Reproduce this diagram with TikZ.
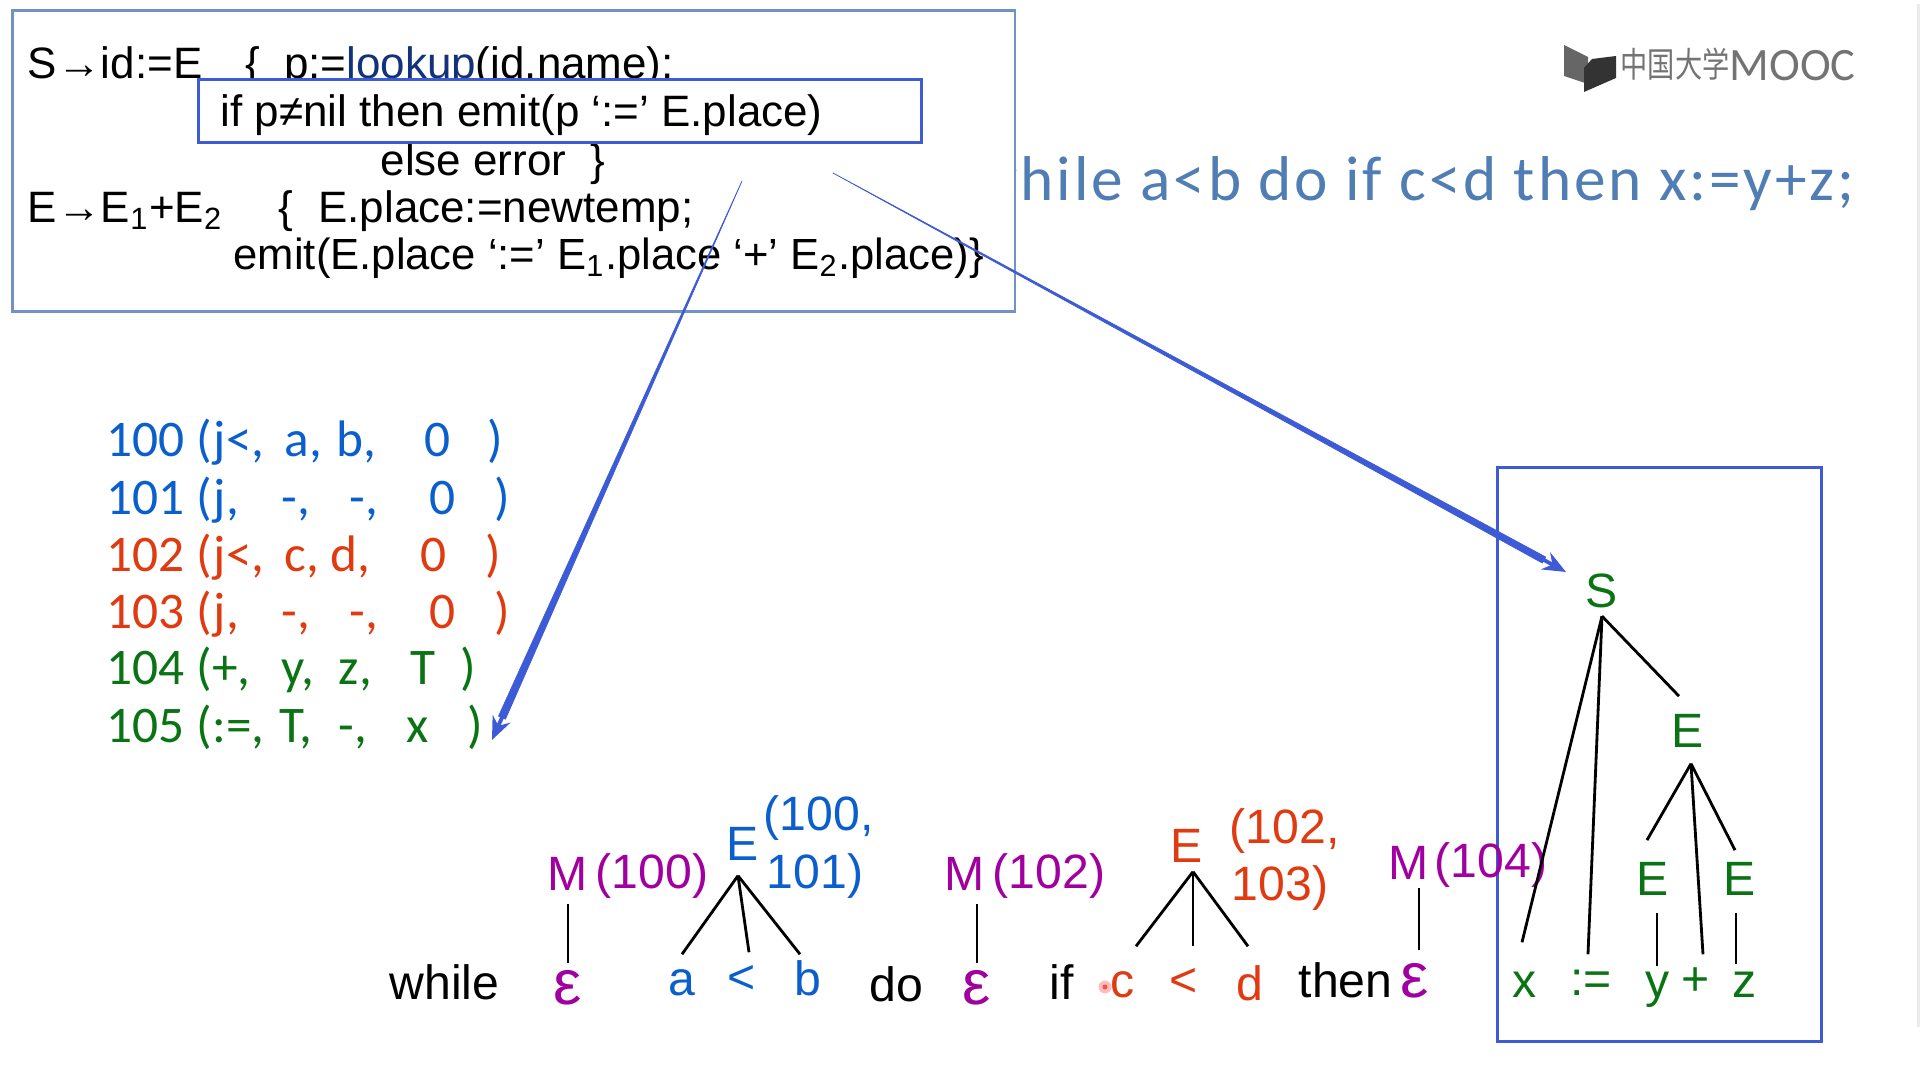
\documentclass[tikz,border=0pt]{standalone}
\usepackage{fontspec}
\setmainfont{Liberation Sans}
\newfontfamily\calfont{Carlito}
\newfontfamily\titlefont[LetterSpace=4.6]{Carlito}
\newfontfamily\cjkfont{Noto Sans CJK SC}
\usepackage{xcolor}
\usetikzlibrary{arrows.meta,calc}

\definecolor{framegray}{RGB}{112,146,196}
\definecolor{markblue}{RGB}{61,91,214}
\definecolor{titleblue}{RGB}{79,125,180}
\definecolor{linknavy}{RGB}{18,50,122}
\definecolor{tblblue}{RGB}{10,95,205}
\definecolor{tblred}{RGB}{224,58,16}
\definecolor{tblgreen}{RGB}{10,115,20}
\definecolor{mpurple}{RGB}{160,0,160}

\newlength\pxu
\setlength\pxu{0.01cm}
\newcommand{\opcell}[2]{\makebox[#1\pxu][l]{#2}}

\begin{document}
\begin{tikzpicture}[
    x=0.01cm, y=-0.01cm,
    code/.style={anchor=base west, inner sep=0pt, font=\fontsize{12.5}{14}\selectfont},
    optbl/.style={anchor=base west, inner sep=0pt, font=\calfont\fontsize{14.6}{16}\selectfont},
    txt/.style={anchor=base west, inner sep=0pt, font=\fontsize{13.7}{16}\selectfont},
    sym/.style={anchor=base, inner sep=0.12cm, font=\fontsize{13.7}{16}\selectfont},
    leaf/.style={sym, text height=0.29cm, text depth=0pt},
    eps/.style={leaf, mpurple, font=\fontsize{18}{20}\selectfont},
    hilite/.style={draw=markblue, line width=0.8pt},
    tline/.style={line width=0.8pt, black},
    pen/.style={fill=markblue, draw=markblue, line width=0.2pt},
    tiparr/.style={-{Stealth[length=2.3mm,width=1.9mm]}, markblue, line width=1.1pt}
]
\useasboundingbox (0,0) rectangle (1920,1080);

\fill[black!8] (1917,4) rectangle (1920,1027);

\node[anchor=base west, inner sep=0pt, text=titleblue, font=\titlefont\fontsize{18}{20}\selectfont] (title) at (972,201) {while a<b do if c<d then x:=y+z;};

\node[draw=framegray, line width=0.8pt, fill=white, minimum width=10.02cm, minimum height=3.01cm, inner sep=0pt, anchor=north west] (rules) at (11,9) {};
\node[code] (l1) at (27,79) {S→id:=E\hspace{0.43cm}\{\hspace{0.24cm}p:=\textcolor{linknavy}{lookup}(id.name);};
\node[code] (l3) at (380,176) {else error \ \}};
\node[code] (l4) at (27,223) {E→E\textsubscript{1}+E\textsubscript{2}};
\node[code] (l4b) at (278,223) {\{\hspace{0.25cm}E.place:=newtemp;};
\node[code, font=\fontsize{12.4}{14}\selectfont] (l5) at (233,270) {emit(E.place ‘:=’ E\textsubscript{1}.place ‘+’ E\textsubscript{2}.place)\}};
\node[hilite, fill=white, minimum width=7.23cm, minimum height=0.63cm, inner sep=0pt, anchor=north west] (hit) at (197,78) {};
\node[code] (l2) at (220,127) {if p≠nil then emit(p ‘:=’ E.place)};

\fill[black!60] (1564,45) -- (1588,57) -- (1588,84) -- (1564,76) -- cycle;
\fill[black!80] (1584,92) -- (1584,68) -- (1592,59) -- (1616,56) -- (1616,78) -- cycle;
\node[anchor=base west, inner sep=0pt, text=black!55, font=\fontsize{9}{10}\selectfont] (brand) at (1620,81) {\raisebox{1pt}{\scalebox{0.86}[1.1]{\cjkfont 中国大学}}\calfont\fontsize{13.2}{14}\selectfont MOOC};

\node[optbl, tblblue] (q100) at (106,457) {\opcell{90}{100}\opcell{88}{(j<,}\opcell{52}{a,}\opcell{88}{b,}\opcell{63}{0})};
\node[optbl, tblblue] (q101) at (106,515) {\opcell{90}{101}\opcell{85}{(j,}\opcell{68}{-,}\opcell{80}{-,}\opcell{65}{0})};
\node[optbl, tblred] (q102) at (106,572) {\opcell{90}{102}\opcell{88}{(j<,}\opcell{46}{c,}\opcell{90}{d,}\opcell{65}{0})};
\node[optbl, tblred] (q103) at (106,629) {\opcell{90}{103}\opcell{85}{(j,}\opcell{68}{-,}\opcell{80}{-,}\opcell{65}{0})};
\node[optbl, tblgreen] (q104) at (106,685) {\opcell{90}{104}\opcell{85}{(+,}\opcell{57}{y,}\opcell{72}{z,}\opcell{50}{T})};
\node[optbl, tblgreen] (q105) at (106,743) {\opcell{90}{105}\opcell{83}{(:=,}\opcell{59}{T,}\opcell{68}{-,}\opcell{61}{x})};

\node[hilite, minimum width=3.24cm, minimum height=5.74cm, inner sep=0pt, anchor=north west] (scope) at (1496,466) {};

\node[txt] (wh) at (389,1000) {while};
\node[eps] (e1) at (568,1005) {ε};
\node[sym, mpurple] (m1) at (568,891) {M};
\node[txt, mpurple] (m1v) at (595,889) {(100)};
\draw[tline] (m1) -- (e1);

\node[sym, tblblue] (eb) at (743,861) {E};
\node[txt, tblblue] (eb1) at (763,831) {(100,};
\node[txt, tblblue] (eb2) at (766,889) {101)};
\node[leaf, tblblue] (a) at (682,996) {a};
\node[leaf, tblblue] (lt1) at (742,994) {<};
\node[leaf, tblblue] (b) at (808,996) {b};
\draw[tline] ($(eb.south)+(-5,2)$) -- (a.north);
\draw[tline] ($(eb.south)+(-5,2)$) -- ($(lt1.north)+(7,0)$);
\draw[tline] ($(eb.south)+(-5,2)$) -- ($(b.north)+(-8,0)$);

\node[txt] (dw) at (869,1002) {do};
\node[eps] (e2) at (977,1005) {ε};
\node[sym, mpurple] (m2) at (965,891) {M};
\node[txt, mpurple] (m2v) at (992,889) {(102)};
\draw[tline] (e2.north) -- (e2.north |- m2.south);

\node[txt] (kif) at (1049,1000) {if};
\node[circle, fill=red!25, inner sep=0pt, minimum size=0.13cm] (dot) at (1105,987) {};
\node[circle, fill=red!70, inner sep=0pt, minimum size=0.05cm] (dotc) at (1105,987) {};
\node[sym, tblred] (er) at (1187,863) {E};
\node[txt, tblred] (er1) at (1229,844) {(102,};
\node[txt, tblred] (er2) at (1231,901) {103)};
\node[leaf, tblred] (c) at (1123,998) {c};
\node[leaf, tblred] (lt2) at (1184,997) {<};
\node[leaf, tblred] (d) at (1250,1001) {d};
\draw[tline] ($(er.south)+(6,-4)$) -- ($(c.north)+(13,-10)$);
\draw[tline] ($(er.south)+(6,-4)$) -- ($(lt2.north)+(9,-9)$);
\draw[tline] ($(er.south)+(6,-4)$) -- ($(d.north)+(-2,-13)$);

\node[txt] (th) at (1298,998) {then};
\node[eps] (e3) at (1415,998) {ε};
\node[sym, mpurple] (m3) at (1409,880) {M};
\node[txt, mpurple] (m3v) at (1434,878) {(104)};
\draw[tline] ($(e3.north)+(4,-6)$) -- ($(m3.south)+(10,-5)$);

\node[sym, tblgreen] (s) at (1602,608) {S};
\node[sym, tblgreen] (ee) at (1688,748) {E};
\node[sym, tblgreen] (el) at (1653,896) {E};
\node[sym, tblgreen] (er3) at (1740,896) {E};
\node[leaf, tblgreen] (nx) at (1525,998) {x};
\node[leaf, tblgreen] (asg) at (1591,996) {:=};
\node[leaf, tblgreen] (ny) at (1658,998) {y};
\node[leaf, tblgreen] (pl) at (1696,996) {+};
\node[leaf, tblgreen] (nz) at (1745,998) {z};
\draw[tline] ($(s.south)+(0,-5)$) -- ($(nx.north)+(-3,-14)$);
\draw[tline] ($(s.south)+(0,-5)$) -- ($(asg.north)+(-3,0)$);
\draw[tline] ($(s.south)+(0,-5)$) -- ($(ee.north)+(-9,-6)$);
\draw[tline] ($(ee.south)+(3,3)$) -- ($(el.north)+(-6,-10)$);
\draw[tline] ($(ee.south)+(3,3)$) -- ($(pl.north)+(7,0)$);
\draw[tline] ($(ee.south)+(3,3)$) -- ($(er3.north)+(-5,0)$);
\draw[tline] ($(el.south)+(4,4)$) -- ($(ny.north)+(-1,10)$);
\draw[tline] ($(er3.south)+(-4,4)$) -- ($(nz.north)+(-9,8)$);

\coordinate (from1) at (742,181);
\coordinate (to1) at (492,740);
\coordinate (from2) at (833,173);
\coordinate (to2) at (1566,572);
\fill[pen] (from1) -- ($(to1)!0.04!(from1)+(3.5,1.5)$) -- ($(to1)!0.04!(from1)+(-3.5,-1.5)$) -- cycle;
\fill[pen] (from2) -- ($(to2)!0.03!(from2)+(1.7,-3)$) -- ($(to2)!0.03!(from2)+(-1.7,3)$) -- cycle;
\draw[tiparr] ($(to1)!0.045!(from1)$) -- (to1);
\draw[tiparr] ($(to2)!0.035!(from2)$) -- (to2);
\end{tikzpicture}
\end{document}
